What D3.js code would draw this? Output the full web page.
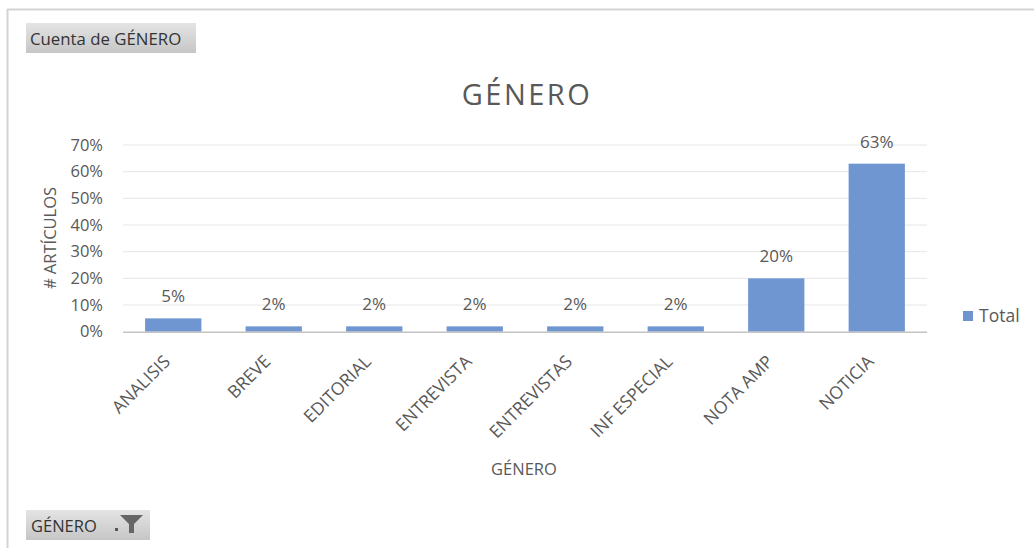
<!DOCTYPE html>
<html>
<head>
<meta charset="utf-8">
<script src="https://cdn.jsdelivr.net/npm/d3@7"></script>
<style>
  html, body { margin: 0; padding: 0; background: #ffffff; }
  svg { display: block; }
  text { font-family: "Open Sans", Lato, sans-serif; }
</style>
</head>
<body>
<svg id="chart" width="1034" height="548"></svg>
<script>
// Article genres and their share of all articles
const categories = ["ANALISIS", "BREVE", "EDITORIAL", "ENTREVISTA", "ENTREVISTAS", "INF ESPECIAL", "NOTA AMP", "NOTICIA"];
const shares = [0.05, 0.02, 0.02, 0.02, 0.02, 0.02, 0.20, 0.63];
const yTicks = [0, 0.1, 0.2, 0.3, 0.4, 0.5, 0.6, 0.7];
const seriesName = "Total";

const W = 1034, H = 548;
const margin = { left: 123, right: 1034 - 927, top: 145, bottom: 548 - 331.7 };
const barColor = "#7096d2";
const textColor = "#595959";
const fontStack = "\"Open Sans\", Lato, sans-serif";

const svg = d3.select("#chart");

// Chart-area frame (top and left edges)
svg.append("line").attr("x1", 7).attr("x2", W).attr("y1", 9.5).attr("y2", 9.5)
  .attr("stroke", "#d4d4d4").attr("stroke-width", 2);
svg.append("line").attr("x1", 7.5).attr("x2", 7.5).attr("y1", 9).attr("y2", H)
  .attr("stroke", "#d4d4d4").attr("stroke-width", 2);

// Pivot field buttons
const defs = svg.append("defs");
const grad = defs.append("linearGradient").attr("id", "btn").attr("x1", 0).attr("x2", 0).attr("y1", 0).attr("y2", 1);
grad.append("stop").attr("offset", "0%").attr("stop-color", "#e4e4e4");
grad.append("stop").attr("offset", "100%").attr("stop-color", "#c6c6c6");

svg.append("rect").attr("x", 26).attr("y", 23).attr("width", 170).attr("height", 30).attr("fill", "url(#btn)");
svg.append("text").attr("x", 30).attr("y", 45).attr("font-size", 16.8).attr("fill", "#333")
  .text("Cuenta de GÉNERO");

svg.append("rect").attr("x", 26).attr("y", 510).attr("width", 124).attr("height", 30).attr("fill", "url(#btn)");
svg.append("text").attr("x", 31).attr("y", 532).attr("font-size", 16.5).attr("fill", "#333")
  .text("GÉNERO");
// small dropdown dot and funnel icon
svg.append("rect").attr("x", 115).attr("y", 528).attr("width", 3).attr("height", 3).attr("fill", "#555");
svg.append("path").attr("d", "M120,515 L143,515 L134,524 L134,533 L129,533 L129,524 Z").attr("fill", "#666");

// Scales
const x = d3.scaleBand().domain(categories).range([margin.left, W - margin.right]).paddingInner(0.44).paddingOuter(0.22);
const y = d3.scaleLinear().domain([0, 0.7]).range([H - margin.bottom, margin.top]);

// Gridlines
svg.append("g").selectAll("line").data(yTicks.slice(1)).join("line")
  .attr("x1", margin.left).attr("x2", W - margin.right)
  .attr("y1", d => y(d)).attr("y2", d => y(d))
  .attr("stroke", "#e6e6e6").attr("stroke-width", 1);

// Y axis labels
const yAxis = d3.axisLeft(y).tickValues(yTicks).tickFormat(d3.format(".0%")).tickSize(0).tickPadding(0);
const gy = svg.append("g").attr("transform", "translate(103,0)").call(yAxis);
gy.select(".domain").remove();
gy.selectAll("text").attr("font-size", 16.5).attr("fill", textColor).attr("font-family", fontStack)
  .attr("text-anchor", "end").attr("x", 0);

// Bars
svg.append("g").selectAll("rect").data(categories).join("rect")
  .attr("x", d => x(d))
  .attr("width", x.bandwidth())
  .attr("y", (d, i) => y(shares[i]))
  .attr("height", (d, i) => y(0) - y(shares[i]))
  .attr("fill", barColor);

// Baseline
svg.append("line").attr("x1", margin.left).attr("x2", W - margin.right)
  .attr("y1", y(0) + 0.5).attr("y2", y(0) + 0.5).attr("stroke", "#c4c4c4").attr("stroke-width", 1.5);

// Value labels
svg.append("g").selectAll("text").data(categories).join("text")
  .attr("x", d => x(d) + x.bandwidth() / 2)
  .attr("y", (d, i) => y(shares[i]) - 16)
  .attr("text-anchor", "middle").attr("font-size", 17).attr("fill", textColor)
  .text((d, i) => d3.format(".0%")(shares[i]));

// X axis category labels, rotated
const xAxis = d3.axisBottom(x).tickSize(0).tickPadding(0);
const gx = svg.append("g").attr("transform", `translate(0,${y(0)})`).call(xAxis);
gx.select(".domain").remove();
gx.selectAll("text")
  .attr("font-size", 17.5).attr("fill", textColor).attr("font-family", fontStack)
  .attr("text-anchor", "end").attr("dy", 0).attr("y", 0).attr("x", 0)
  .attr("transform", "translate(-2,31) rotate(-45)");

// Titles
svg.append("text").attr("x", 527).attr("y", 105).attr("text-anchor", "middle")
  .attr("font-size", 29).attr("fill", textColor).attr("letter-spacing", 2.5).text("GÉNERO");
svg.append("text").attr("x", 524).attr("y", 475).attr("text-anchor", "middle")
  .attr("font-size", 16.5).attr("fill", textColor).text("GÉNERO");
svg.append("text").attr("transform", "translate(56,238) rotate(-90)").attr("text-anchor", "middle")
  .attr("font-size", 16.5).attr("fill", textColor).text("# ARTÍCULOS");

// Legend
svg.append("rect").attr("x", 963).attr("y", 311).attr("width", 10).attr("height", 10).attr("fill", barColor);
svg.append("text").attr("x", 979).attr("y", 322).attr("font-size", 17.5).attr("fill", textColor).text(seriesName);
</script>
</body>
</html>
